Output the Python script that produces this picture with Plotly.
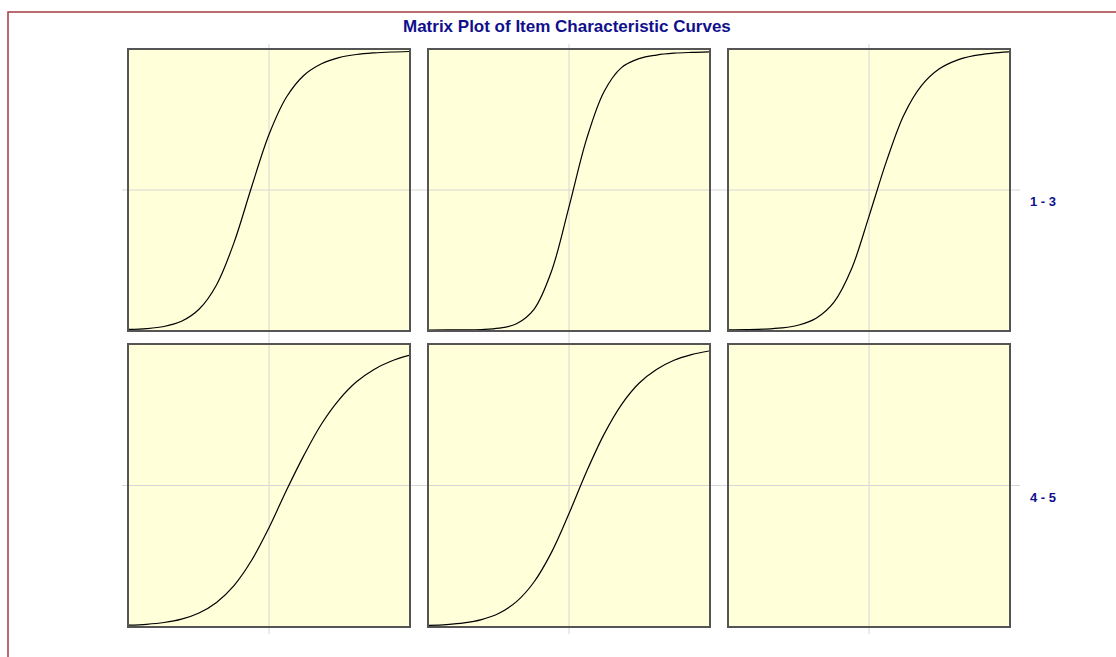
import plotly.graph_objects as go
from plotly.subplots import make_subplots

# ---- data ----
theta = [-4.0, -3.5, -3.0, -2.5, -2.0, -1.5, -1.0, -0.5, 0.0,
         0.5, 1.0, 1.5, 2.0, 2.5, 3.0, 3.5, 4.0]

item1 = [0.0019, 0.0049, 0.0126, 0.031, 0.074, 0.161, 0.312, 0.51, 0.698,
         0.832, 0.910, 0.951, 0.973, 0.984, 0.9897, 0.9929, 0.9947]
item2 = [0.00004, 0.00013, 0.0005, 0.0017, 0.0064, 0.0225, 0.074, 0.21, 0.44,
         0.681, 0.851, 0.937, 0.969, 0.982, 0.9885, 0.9915, 0.9935]
item3 = [0.0005, 0.0012, 0.003, 0.0074, 0.018, 0.0431, 0.0998, 0.218, 0.406,
         0.603, 0.769, 0.873, 0.932, 0.963, 0.9796, 0.9882, 0.993]
item4 = [0.0029, 0.0061, 0.0125, 0.0246, 0.0465, 0.084, 0.144, 0.233, 0.35,
         0.483, 0.608, 0.719, 0.805, 0.869, 0.913, 0.943, 0.963]
item5 = [0.0023, 0.0051, 0.011, 0.0229, 0.0454, 0.0867, 0.1565, 0.262, 0.40,
         0.549, 0.682, 0.788, 0.864, 0.913, 0.9457, 0.966, 0.9787]

items = [item1, item2, item3, item4, item5]
row_labels = ["1 - 3", "4 - 5"]
title_text = "Matrix Plot of Item Characteristic Curves"

# ---- layout geometry (pixels) ----
W, H = 1116, 657
col_px = [(129, 409), (429, 709), (729, 1009)]
row_px = [(50, 330), (345, 626)]

def px_x(v):
    return v / W

def px_y(v):
    return 1 - v / H

fig = make_subplots(rows=2, cols=3)

for i, vals in enumerate(items):
    r, c = divmod(i, 3)
    fig.add_trace(go.Scatter(x=theta, y=vals, mode="lines",
                             line=dict(color="black", width=1.2, shape="spline", smoothing=1.0),
                             showlegend=False, hoverinfo="skip"),
                  row=r + 1, col=c + 1)
# empty sixth panel (keeps its background and frame)
fig.add_trace(go.Scatter(x=[None], y=[None], mode="lines", showlegend=False,
                         hoverinfo="skip"), row=2, col=3)

panel_bg = "#ffffda"
border_col = "#555555"
grid_col = "#d6d6d6"

for r in range(2):
    for c in range(3):
        idx = r * 3 + c + 1
        xa = "xaxis" if idx == 1 else f"xaxis{idx}"
        ya = "yaxis" if idx == 1 else f"yaxis{idx}"
        fig.layout[xa].update(domain=[px_x(col_px[c][0]), px_x(col_px[c][1])],
                              range=[-4, 4], showgrid=False, zeroline=False,
                              showticklabels=False, ticks="", showline=True,
                              mirror=True, linecolor=border_col, linewidth=1.5,
                              fixedrange=True)
        fig.layout[ya].update(domain=[px_y(row_px[r][1]), px_y(row_px[r][0])],
                              range=[0, 1], showgrid=False, zeroline=False,
                              showticklabels=False, ticks="", showline=True,
                              mirror=True, linecolor=border_col, linewidth=1.5,
                              fixedrange=True)

shapes = []
# vertical gridlines at theta = 0, spanning both rows of each column
for c in range(3):
    xr = "x" if c == 0 else f"x{c + 1}"
    shapes.append(dict(type="line", xref=xr, yref="paper", x0=0, x1=0,
                       y0=px_y(634), y1=px_y(44), layer="below",
                       line=dict(color=grid_col, width=1)))
# horizontal gridlines at p = 0.5, spanning all columns
for r in range(2):
    yr = "y" if r == 0 else f"y{r * 3 + 1}"
    shapes.append(dict(type="line", xref="paper", yref=yr, x0=px_x(122), x1=px_x(1020),
                       y0=0.5, y1=0.5, layer="below",
                       line=dict(color=grid_col, width=1)))
# outer frame (top and left edges)
shapes.append(dict(type="path", xref="paper", yref="paper",
                   path=f"M {px_x(8)} {px_y(H + 2)} L {px_x(8)} {px_y(12)} L {px_x(W + 2)} {px_y(12)}",
                   line=dict(color="#a63a44", width=1.5)))

annotations = [
    dict(text=f"<b>{title_text}</b>", x=px_x(567), y=px_y(27), xref="paper", yref="paper",
         showarrow=False, font=dict(family="Liberation Sans, Arial", size=17, color="#10108c"),
         xanchor="center", yanchor="middle"),
]
label_y = [201, 497]
for lab, yy in zip(row_labels, label_y):
    annotations.append(dict(text=f"<b>{lab}</b>", x=px_x(1043), y=px_y(yy), xref="paper", yref="paper",
                            showarrow=False, font=dict(family="Liberation Sans, Arial", size=13, color="#10108c"),
                            xanchor="center", yanchor="middle"))

fig.update_layout(width=W, height=H, margin=dict(l=0, r=0, t=0, b=0),
                  paper_bgcolor="white", plot_bgcolor=panel_bg,
                  shapes=shapes, annotations=annotations, showlegend=False)

fig.write_html("out.html", config={"displayModeBar": False},
               post_script="document.body.style.margin='0px';document.body.style.overflow='hidden';")
